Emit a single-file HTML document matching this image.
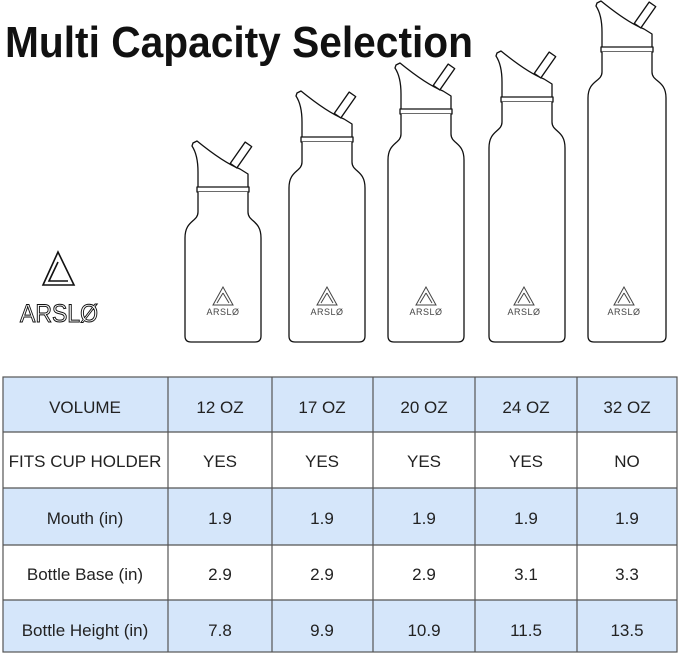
<!DOCTYPE html>
<html><head><meta charset="utf-8"><style>
html,body{margin:0;padding:0;background:#fff;}
svg{display:block}
text{font-family:"Liberation Sans",sans-serif;}
</style></head><body>
<svg width="679" height="654" viewBox="0 0 679 654" xmlns="http://www.w3.org/2000/svg">
<defs>
<g id="cap" fill="#fff" stroke="#111" stroke-width="1.3" stroke-linejoin="round">
  <path d="M-25,-2 L-25,-18 C-25,-30 -27,-38 -31,-44 L-30,-47 L-26,-49 C-10,-36 4,-26 17,-21 L25,-16 L25,-2 Z"/>
  <rect x="14" y="-48" width="8" height="26" transform="rotate(35 18 -35)"/>
  <rect x="-26" y="-3" width="52" height="5"/>
</g>
<g id="logo">
  <path d="M0,-16 L-10,2 L10,2 Z M0,-10 L-6,0 M0,-10 L6,0" fill="none" stroke="#444" stroke-width="1"/>
  <text x="0" y="12" font-size="9" text-anchor="middle" fill="#444" letter-spacing="0.5">ARSLØ</text>
</g>
</defs>
<text x="5" y="57" font-size="44" font-weight="bold" textLength="468" lengthAdjust="spacingAndGlyphs" fill="#111">Multi Capacity Selection</text>

<!-- left logo -->
<path d="M58,252 L43,285 L74,285 Z M58,262 L49,281 L68,281" fill="none" stroke="#111" stroke-width="1.6"/>
<text x="59" y="322" font-size="25" text-anchor="middle" fill="none" stroke="#111" stroke-width="1" textLength="78" lengthAdjust="spacingAndGlyphs">ARSLØ</text>

<g fill="#fff" stroke="#111" stroke-width="1.3">
<g transform="translate(223,190)"><use href="#cap"/><path d="M-25,2 L-25,22 C-25,32 -38,30 -38,48 L-38,146 Q-38,152 -32,152 L32,152 Q38,152 38,146 L38,48 C38,30 25,32 25,22 L25,2"/></g>
<g transform="translate(327,140)"><use href="#cap"/><path d="M-25,2 L-25,22 C-25,32 -38,30 -38,48 L-38,196 Q-38,202 -32,202 L32,202 Q38,202 38,196 L38,48 C38,30 25,32 25,22 L25,2"/></g>
<g transform="translate(426,112)"><use href="#cap"/><path d="M-25,2 L-25,22 C-25,32 -38,30 -38,48 L-38,224 Q-38,230 -32,230 L32,230 Q38,230 38,224 L38,48 C38,30 25,32 25,22 L25,2"/></g>
<g transform="translate(527,100)"><use href="#cap"/><path d="M-25,2 L-25,22 C-25,32 -38,30 -38,48 L-38,236 Q-38,242 -32,242 L32,242 Q38,242 38,236 L38,48 C38,30 25,32 25,22 L25,2"/></g>
<g transform="translate(627,50)"><use href="#cap"/><path d="M-25,2 L-25,22 C-25,32 -39,30 -39,48 L-39,286 Q-39,292 -33,292 L33,292 Q39,292 39,286 L39,48 C39,30 25,32 25,22 L25,2"/></g>
</g>
<g stroke="none">
<use href="#logo" x="223" y="303"/>
<use href="#logo" x="327" y="303"/>
<use href="#logo" x="426" y="303"/>
<use href="#logo" x="524" y="303"/>
<use href="#logo" x="624" y="303"/>
</g>

<!-- table -->
<g fill="#d5e6fa">
<rect x="3" y="377" width="674" height="55"/>
<rect x="3" y="488" width="674" height="57"/>
<rect x="3" y="600" width="674" height="52"/>
</g>
<g stroke="#555" stroke-width="1.2" fill="none">
<rect x="3" y="377" width="674" height="275"/>
<line x1="3" y1="432" x2="677" y2="432"/>
<line x1="3" y1="488" x2="677" y2="488"/>
<line x1="3" y1="545" x2="677" y2="545"/>
<line x1="3" y1="600" x2="677" y2="600"/>
<line x1="168" y1="377" x2="168" y2="652"/>
<line x1="272" y1="377" x2="272" y2="652"/>
<line x1="373" y1="377" x2="373" y2="652"/>
<line x1="475" y1="377" x2="475" y2="652"/>
<line x1="577" y1="377" x2="577" y2="652"/>
</g>
<g font-size="17" fill="#222" text-anchor="middle">
<text x="85" y="413">VOLUME</text><text x="220" y="413">12 OZ</text><text x="322" y="413">17 OZ</text><text x="424" y="413">20 OZ</text><text x="526" y="413">24 OZ</text><text x="627" y="413">32 OZ</text>
<text x="85" y="467">FITS CUP HOLDER</text><text x="220" y="467">YES</text><text x="322" y="467">YES</text><text x="424" y="467">YES</text><text x="526" y="467">YES</text><text x="627" y="467">NO</text>
<text x="85" y="524">Mouth (in)</text><text x="220" y="524">1.9</text><text x="322" y="524">1.9</text><text x="424" y="524">1.9</text><text x="526" y="524">1.9</text><text x="627" y="524">1.9</text>
<text x="85" y="580">Bottle Base (in)</text><text x="220" y="580">2.9</text><text x="322" y="580">2.9</text><text x="424" y="580">2.9</text><text x="526" y="580">3.1</text><text x="627" y="580">3.3</text>
<text x="85" y="636">Bottle Height (in)</text><text x="220" y="636">7.8</text><text x="322" y="636">9.9</text><text x="424" y="636">10.9</text><text x="526" y="636">11.5</text><text x="627" y="636">13.5</text>
</g>
</svg>
</body></html>
